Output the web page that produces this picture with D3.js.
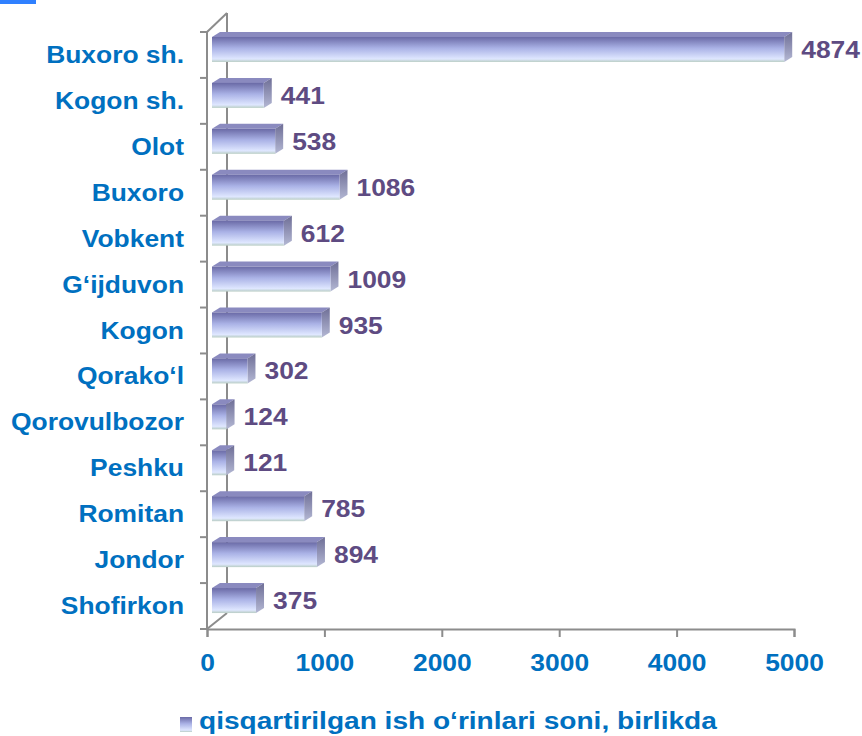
<!DOCTYPE html>
<html>
<head>
<meta charset="utf-8">
<script src="https://cdn.jsdelivr.net/npm/d3@7"></script>
<style>
  body { margin: 0; background: #fff; }
  text { font-family: "Liberation Sans", Arial, sans-serif; font-weight: bold; }
</style>
</head>
<body>
<svg id="chart" width="862" height="736"></svg>
<script>
// districts, top to bottom
var districts = ["Buxoro sh.", "Kogon sh.", "Olot", "Buxoro", "Vobkent", "G‘ijduvon",
  "Kogon", "Qorako‘l", "Qorovulbozor", "Peshku", "Romitan", "Jondor", "Shofirkon"];
// reduced workplaces, units
var jobs = [4874, 441, 538, 1086, 612, 1009, 935, 302, 124, 121, 785, 894, 375];
var xTicks = [0, 1000, 2000, 3000, 4000, 5000];
var legendLabel = "qisqartirilgan ish o‘rinlari soni, birlikda";

var svg = d3.select("#chart");
var data = districts.map((d, i) => ({ name: d, value: jobs[i] }));

var xScale = d3.scaleLinear().domain([0, 5000]).range([207, 794]);
var yScale = d3.scaleBand().domain(districts).range([32, 629]);

var depthX = 20, depthY = 16;   // floor depth of the 3d frame
var axisColor = "#8c8c8c";
var stretch = 1.1;              // text in the picture is a bit wide

// gradients for bars
var defs = svg.append("defs");
var gFront = defs.append("linearGradient").attr("id", "front")
  .attr("x1", 0).attr("y1", 0).attr("x2", 0).attr("y2", 1);
gFront.append("stop").attr("offset", "0%").attr("stop-color", "#6a6aa6");
gFront.append("stop").attr("offset", "45%").attr("stop-color", "#aab2e6");
gFront.append("stop").attr("offset", "88%").attr("stop-color", "#dfe7ff");
gFront.append("stop").attr("offset", "100%").attr("stop-color", "#b9cdc4");
var gSide = defs.append("linearGradient").attr("id", "side")
  .attr("x1", 0).attr("y1", 0).attr("x2", 0).attr("y2", 1);
gSide.append("stop").attr("offset", "0%").attr("stop-color", "#6e6e96");
gSide.append("stop").attr("offset", "100%").attr("stop-color", "#b4b8d4");

// little blue mark top left
svg.append("rect").attr("x", 0).attr("y", 0).attr("width", 36).attr("height", 4)
  .attr("fill", "#2f80ff");

// 3d frame: back wall, floor edge, top edge
var frame = svg.append("g").attr("stroke", axisColor).attr("stroke-width", 2).attr("fill", "none");
frame.append("line")
  .attr("x1", xScale(0) + depthX).attr("y1", yScale.range()[0] - 19)
  .attr("x2", xScale(0) + depthX).attr("y2", yScale.range()[1] - depthY);
frame.append("line")
  .attr("x1", xScale(0)).attr("y1", yScale.range()[0])
  .attr("x2", xScale(0) + depthX).attr("y2", yScale.range()[0] - 19);
frame.append("line")
  .attr("x1", xScale(0)).attr("y1", yScale.range()[1])
  .attr("x2", xScale(0) + depthX).attr("y2", yScale.range()[1] - depthY);
// front left axis
frame.append("line")
  .attr("x1", xScale(0)).attr("y1", yScale.range()[0])
  .attr("x2", xScale(0)).attr("y2", yScale.range()[1]);
// left ticks on band edges
frame.selectAll(".ytick")
  .data(districts.map((d) => yScale(d)).concat([yScale.range()[1]]))
  .enter()
  .append("line")
  .attr("x1", xScale(0) - 7).attr("x2", xScale(0))
  .attr("y1", (d) => d).attr("y2", (d) => d);

// bottom axis
var xAxis = svg.append("g")
  .attr("transform", "translate(0," + yScale.range()[1] + ")")
  .call(d3.axisBottom(xScale).tickValues(xTicks).tickFormat(d3.format("d"))
    .tickSize(8).tickSizeOuter(8).tickPadding(17));
xAxis.select(".domain").attr("stroke", axisColor).attr("stroke-width", 2);
xAxis.selectAll(".tick line").attr("stroke", axisColor).attr("stroke-width", 2);
xAxis.selectAll(".tick text")
  .attr("fill", "#0070c0")
  .style("font-size", "24px")
  .style("font-family", "'Liberation Sans', Arial, sans-serif")
  .style("font-weight", "bold")
  .attr("transform", "scale(" + stretch + ",1)");

// bars
var barOff = 5, bx = 8, by = 5;
var bars = svg.append("g").selectAll(".bar")
  .data(data)
  .enter()
  .append("g")
  .attr("class", "bar");

function barTop(d) { return yScale(d.name) + yScale.bandwidth() / 2 - 18; }
var barH = 25;

// top face
bars.append("path")
  .attr("fill", "#8a8abf")
  .attr("d", (d) => {
    var x0 = xScale(0) + barOff, x1 = xScale(d.value) + barOff, t = barTop(d);
    return "M" + x0 + "," + t + "L" + (x0 + bx) + "," + (t - by) + "L" + (x1 + bx) + "," + (t - by) + "L" + x1 + "," + t + "Z";
  });
// side face
bars.append("path")
  .attr("fill", "url(#side)")
  .attr("d", (d) => {
    var x1 = xScale(d.value) + barOff, t = barTop(d);
    return "M" + x1 + "," + t + "L" + (x1 + bx) + "," + (t - by) + "L" + (x1 + bx) + "," + (t - by + barH) + "L" + x1 + "," + (t + barH) + "Z";
  });
// front face
bars.append("rect")
  .attr("fill", "url(#front)")
  .attr("x", xScale(0) + barOff)
  .attr("y", (d) => barTop(d))
  .attr("width", (d) => xScale(d.value) - xScale(0))
  .attr("height", barH);

// value labels
bars.append("text")
  .attr("transform", (d) => "translate(" + (xScale(d.value) + barOff + bx + 9) + "," + (yScale(d.name) + yScale.bandwidth() / 2 + 3) + ") scale(" + stretch + ",1)")
  .attr("fill", "#5e4b82")
  .style("font-size", "24px")
  .text((d) => d.value);

// category labels
svg.append("g").selectAll(".cat")
  .data(districts)
  .enter()
  .append("text")
  .attr("transform", (d) => "translate(184," + (yScale(d) + yScale.bandwidth() / 2 + 8) + ") scale(" + stretch + ",1)")
  .attr("text-anchor", "end")
  .attr("fill", "#0070c0")
  .style("font-size", "24px")
  .text((d) => d);

// legend
var legend = svg.append("g").attr("transform", "translate(180,717)");
legend.append("rect").attr("width", 12).attr("height", 15).attr("fill", "url(#front)");
legend.append("text")
  .attr("transform", "translate(19,12) scale(1.17,1)")
  .attr("fill", "#0070c0")
  .style("font-size", "24px")
  .text(legendLabel);
</script>
</body>
</html>
